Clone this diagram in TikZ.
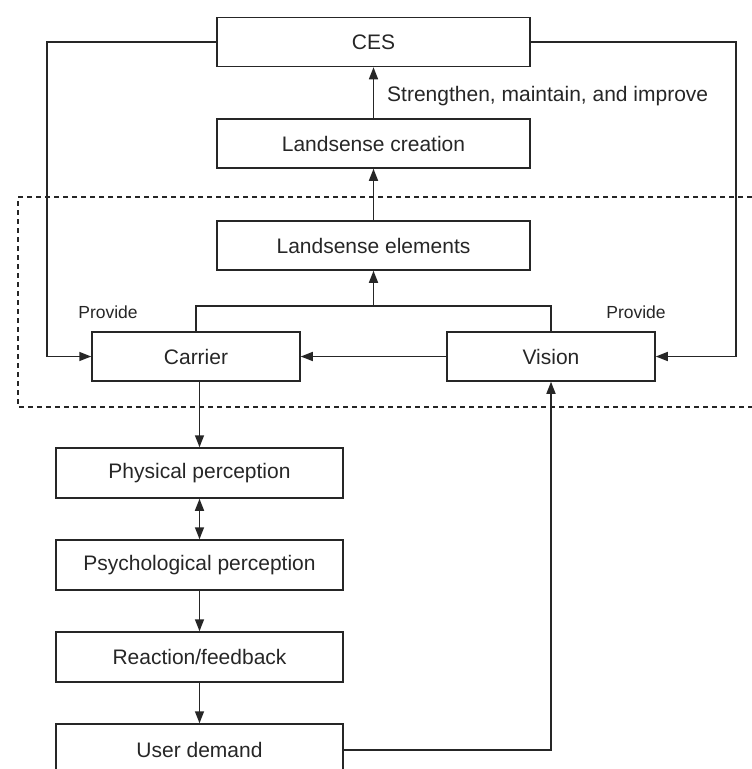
\documentclass[tikz,border=0pt]{standalone}
\usepackage{fontspec}
\setmainfont{Liberation Sans}
\usetikzlibrary{arrows.meta}
\definecolor{ink}{HTML}{262626}
\begin{document}
\begin{tikzpicture}[x=1pt,y=-1pt,
  box/.style={draw=ink, line width=1.5pt, inner sep=0pt, text=ink,
    font=\fontsize{21}{25}\selectfont},
  wide/.style={box, minimum width=313pt, minimum height=49pt},
  mid/.style={box, minimum width=208pt, minimum height=49pt},
  low/.style={box, minimum width=287pt, minimum height=50pt},
  lbl/.style={inner sep=0pt, text=ink, font=\fontsize{21}{25}\selectfont},
  small/.style={inner sep=0pt, text=ink, font=\fontsize{17.5}{21}\selectfont},
  ln/.style={draw=ink, line width=1.5pt},
  arr/.style={ln, -{Triangle[length=12pt,width=9pt]}},
  darr/.style={ln, {Triangle[length=12pt,width=9pt]}-{Triangle[length=12pt,width=9pt]}},
  dashbox/.style={draw=ink, line width=1.3pt, dash pattern=on 5pt off 4pt}]
\useasboundingbox (0,0) rectangle (752,769);
\clip (0,0) rectangle (752,769);
% dashed region
\draw[dashbox] (770,197) -- (18,197) -- (18,407) -- (770,407);
% nodes
\node[wide] (ces) at (373.5,42) {CES};
\node[wide] (creation) at (373.5,143.5) {Landsense creation};
\node[wide] (elements) at (373.5,245.5) {Landsense elements};
\node[mid] (carrier) at (196,356.5) {Carrier};
\node[mid] (vision) at (551,356.5) {Vision};
\node[low] (physical) at (199.5,473) {Physical perception};
\node[low] (psych) at (199.5,565) {Psychological perception};
\node[low] (reaction) at (199.5,657) {Reaction/feedback};
\node[low, minimum height=52pt] (user) at (199.5,750) {User demand};
% labels
\node[lbl, anchor=west] (strength) at (387,96) {Strengthen, maintain, and improve};
\node[small] (provl) at (108,312) {Provide};
\node[small] (provr) at (636,312) {Provide};
% coordinates
\coordinate (lc) at (47,42);
\coordinate (rc) at (736,42);
\coordinate (jn) at (373.5,306);
\coordinate (cdown) at (199.5,381);
% connectors
\draw[arr] (creation.north) -- (ces.south);
\draw[arr] (elements.north |- 0,197) -- (creation.south);
\draw[ln] (elements.north |- 0,197) -- (elements.north);
\draw[ln] (carrier.north) |- (jn) -| (vision.north);
\draw[arr] (jn) -- (elements.south);
\draw[arr] (ces.west) -- (lc) |- (carrier.west);
\draw[arr] (ces.east) -- (rc) |- (vision.east);
\draw[arr] (vision.west) -- (carrier.east);
\draw[arr] (cdown) -- (physical.north);
\draw[darr] (physical.south) -- (psych.north);
\draw[arr] (psych.south) -- (reaction.north);
\draw[arr] (reaction.south) -- (user.north);
\draw[arr] (user.east) -| (vision.south);
\end{tikzpicture}
\end{document}
